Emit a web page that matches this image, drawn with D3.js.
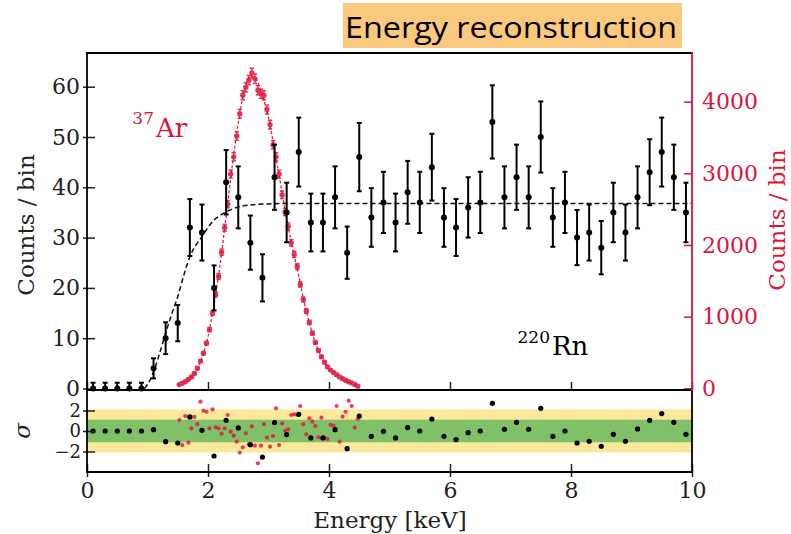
<!DOCTYPE html>
<html>
<head>
<meta charset="utf-8">
<script src="https://cdn.jsdelivr.net/npm/d3@7"></script>
<style>
	body { margin: 0; background: #fff; }
	text { font-family: "DejaVu Serif", serif; }
</style>
</head>
<body>
<script>
// 220Rn spectrum, 0.2 keV bins (left axis)
const binCentres = [0.1, 0.3, 0.5, 0.7, 0.9, 1.1, 1.3, 1.5, 1.7, 1.9,
	2.1, 2.3, 2.5, 2.7, 2.9, 3.1, 3.3, 3.5, 3.7, 3.9,
	4.1, 4.3, 4.5, 4.7, 4.9, 5.1, 5.3, 5.5, 5.7, 5.9,
	6.1, 6.3, 6.5, 6.7, 6.9, 7.1, 7.3, 7.5, 7.7, 7.9,
	8.1, 8.3, 8.5, 8.7, 8.9, 9.1, 9.3, 9.5, 9.7, 9.9];
const rnCounts = [0, 0, 0, 0, 0, 4, 10, 13, 32, 31,
	20, 41, 38, 29, 22, 42, 35, 47, 33, 33,
	38, 27, 46, 34, 37, 33, 39, 37, 44, 34,
	32, 36, 37, 53, 38, 42, 38, 50, 34, 37,
	30, 31, 28, 35, 31, 38, 43, 47, 42, 35];
const rnResiduals = [0, 0, 0, 0, 0, 0.13, -1.04, -1.17, 1.37, 0.07,
	-2.44, 1.05, 0.3, -1.33, -2.54, 0.82, -0.35, 1.63, -0.68, -0.68,
	0.13, -1.72, 1.46, -0.52, -0.03, -0.68, 0.33, 0, 1.17, -0.52,
	-0.84, -0.16, 0, 2.7, 0.17, 0.85, 0.17, 2.21, -0.52, 0,
	-1.17, -1.0, -1.49, -0.32, -1.0, 0.2, 1.04, 1.7, 0.85, -0.32];
const zeroBinErr = 1.15;
const rnFitEnergy = [0.95, 1.0, 1.1, 1.2, 1.3, 1.4, 1.5, 1.6, 1.7, 1.8, 1.9, 2.0, 2.1, 2.2, 2.3, 2.5, 2.7, 3.0, 3.5, 10];
const rnFitCounts = [0, 0.8, 3.3, 7, 11, 14.8, 18.3, 22.5, 26.2, 28.5, 30.2, 32, 33.5, 34.4, 35.1, 36.1, 36.5, 36.7, 36.8, 36.8];

// 37Ar peak, 0.05 keV bins (right axis)
const arCentres = [1.525, 1.575, 1.625, 1.675, 1.725, 1.775, 1.825, 1.875, 1.925, 1.975,
	2.025, 2.075, 2.125, 2.175, 2.225, 2.275, 2.325, 2.375, 2.425, 2.475,
	2.525, 2.575, 2.625, 2.675, 2.725, 2.775, 2.825, 2.875, 2.925, 2.975,
	3.025, 3.075, 3.125, 3.175, 3.225, 3.275, 3.325, 3.375, 3.425, 3.475,
	3.525, 3.575, 3.625, 3.675, 3.725, 3.775, 3.825, 3.875, 3.925, 3.975,
	4.025, 4.075, 4.125, 4.175, 4.225, 4.275, 4.325, 4.375, 4.425, 4.475];
const arCounts = [52, 72, 93, 124, 158, 208, 280, 380, 490, 630,
	820, 1050, 1310, 1560, 1900, 2240, 2570, 2990, 3230, 3520,
	3830, 4090, 4200, 4300, 4400, 4320, 4160, 4110, 4090, 3890,
	3680, 3400, 3230, 2990, 2700, 2460, 2260, 2030, 1870, 1700,
	1450, 1240, 1080, 920, 770, 640, 530, 440, 365, 300,
	255, 222, 190, 160, 135, 112, 92, 76, 55, 30];
const arResiduals = [1.07, -1.37, 1.46, -1.14, 0.26, 1.37, 0.68, 2.86, 1.98, 1.88,
	0.26, 2.11, 0.36, 0.26, -0.26, 0.26, 1.56, -0.07, -0.46, -1.04,
	-2.1, -1.59, -0.23, -1.3, 0.46, -1.43, -3.15, -1.43, 0.68, -0.65,
	-1.53, -0.49, 2.21, -1.37, 0.75, 0, 0.16, 1.56, 1.63, 1.58,
	2.44, 0.68, -0.32, 1.24, 0.91, 0.49, -0.61, 1.3, -0.65, -0.78,
	0.59, 0.52, 2.44, -1.04, 1.4, 1.88, 2.96, 2.44, 0.32, 1.17];
const arFitEnergy = [1.5, 1.6, 1.7, 1.8, 1.9, 2.0, 2.1, 2.2, 2.3, 2.4, 2.5, 2.6, 2.7, 2.8, 2.9, 3.0,
	3.1, 3.2, 3.3, 3.4, 3.5, 3.6, 3.7, 3.8, 3.9, 4.0, 4.1, 4.2, 4.3, 4.4, 4.5];
const arFitCounts = [45, 82, 140, 240, 430, 720, 1170, 1730, 2400, 3100, 3700, 4150, 4350, 4300, 4080, 3780,
	3330, 2850, 2360, 1950, 1570, 1160, 840, 580, 400, 280, 205, 148, 102, 62, 25];

// axes
const leftTicks = [0, 10, 20, 30, 40, 50, 60];
const rightTicks = [0, 1000, 2000, 3000, 4000];
const sigmaTicks = [-2, 0, 2];
const energyTicks = [0, 2, 4, 6, 8, 10];
const sigmaBands = [2.1, 1.1];

const W = 791, H = 534;
const RED = "#dc143c";
const INK = "#222";
const bandColours = ["#fbe89a", "#80c068"];

const svg = d3.select("body").append("svg").attr("width", W).attr("height", H);

const x = d3.scaleLinear([0, 10], [87, 692]);
const yL = d3.scaleLinear([-0.3, 66.7], [390, 53]);
const yR = d3.scaleLinear([-23, 4679], [390, 53]);
const yS = d3.scaleLinear([-4, 4], [472, 390]);

// title box
svg.append("rect")
	.attr("x", 343).attr("y", 3).attr("width", 339).attr("height", 45)
	.attr("fill", "#fbc97e");
svg.append("text")
	.attr("x", 511).attr("y", 38)
	.attr("text-anchor", "middle")
	.style("font-family", "'Open Sans', Lato, sans-serif")
	.attr("font-size", 29)
	.attr("textLength", 332).attr("lengthAdjust", "spacingAndGlyphs")
	.attr("fill", "#000")
	.text("Energy reconstruction");

// residual bands
for (let i = 0; i < sigmaBands.length; i++) {
	svg.append("rect")
		.attr("x", x(0)).attr("width", x(10) - x(0))
		.attr("y", yS(sigmaBands[i])).attr("height", yS(-sigmaBands[i]) - yS(sigmaBands[i]))
		.attr("fill", bandColours[i]);
}

// error bar helper
function errorBars(g, data, colour, width, cap) {
	let sel = g.selectAll(null).data(data).enter().append("g");
	sel.append("line")
		.attr("x1", d => d.x).attr("x2", d => d.x)
		.attr("y1", d => d.lo).attr("y2", d => d.hi)
		.attr("stroke", colour).attr("stroke-width", width);
	for (let key of ["lo", "hi"]) {
		sel.append("line")
			.attr("x1", d => d.x - cap).attr("x2", d => d.x + cap)
			.attr("y1", d => d[key]).attr("y2", d => d[key])
			.attr("stroke", colour).attr("stroke-width", width);
	}
}

// 37Ar: fit line, bars, points
const arLine = d3.line().x((d, i) => x(arFitEnergy[i])).y(d => yR(d)).curve(d3.curveMonotoneX);
svg.append("path")
	.attr("d", arLine(arFitCounts))
	.attr("fill", "none").attr("stroke", RED).attr("stroke-width", 1.2)
	.attr("stroke-dasharray", "3,2");

const arData = arCentres.map((e, i) => ({
	x: x(e),
	y: yR(arCounts[i]),
	lo: yR(arCounts[i] - Math.sqrt(arCounts[i])),
	hi: yR(arCounts[i] + Math.sqrt(arCounts[i]))
}));
let arG = svg.append("g").attr("opacity", 0.85);
errorBars(arG, arData, RED, 1.5, 2.2);
arG.selectAll("circle").data(arData).enter().append("circle")
	.attr("cx", d => d.x).attr("cy", d => d.y).attr("r", 2.7)
	.attr("fill", RED);

// 220Rn: fit line, bars, points
const rnLine = d3.line().x((d, i) => x(rnFitEnergy[i])).y(d => yL(d)).curve(d3.curveMonotoneX);
svg.append("path")
	.attr("d", rnLine(rnFitCounts))
	.attr("fill", "none").attr("stroke", "#111").attr("stroke-width", 1.5)
	.attr("stroke-dasharray", "5,3");

const rnData = binCentres.map((e, i) => {
	let n = rnCounts[i];
	let err = n > 0 ? Math.sqrt(n) : zeroBinErr;
	return { x: x(e), y: yL(n), lo: yL(Math.max(n - err, 0)), hi: yL(n + err) };
});
let rnG = svg.append("g");
errorBars(rnG, rnData, "#000", 2, 2.5);
rnG.selectAll("circle").data(rnData).enter().append("circle")
	.attr("cx", d => d.x).attr("cy", d => d.y).attr("r", 3)
	.attr("fill", "#000");

// residual points
svg.append("g").selectAll("circle").data(arResiduals).enter().append("circle")
	.attr("cx", (d, i) => x(arCentres[i])).attr("cy", d => yS(d)).attr("r", 2.1)
	.attr("fill", RED).attr("opacity", 0.8);
svg.append("g").selectAll("circle").data(rnResiduals).enter().append("circle")
	.attr("cx", (d, i) => x(binCentres[i])).attr("cy", d => yS(d)).attr("r", 2.6)
	.attr("fill", "#000");

// axes: ticks point in and out
function styleAxis(g, colour, outLen, horizontal, dir, size) {
	g.attr("font-family", null).attr("font-size", size);
	g.select(".domain").remove();
	g.selectAll(".tick line").attr("stroke", colour).attr("stroke-width", 1.5);
	g.selectAll(".tick text").attr("fill", colour);
	if (outLen > 0) {
		g.selectAll(".tick").append("line")
			.attr(horizontal ? "y2" : "x2", dir * outLen)
			.attr("stroke", colour).attr("stroke-width", 1.5);
	}
}

let gL = svg.append("g").attr("transform", "translate(87,0)")
	.call(d3.axisLeft(yL).tickValues(leftTicks).tickSize(-8).tickPadding(7));
styleAxis(gL, INK, 4, false, -1, 22);

let gR = svg.append("g").attr("transform", "translate(692,0)")
	.call(d3.axisRight(yR).tickValues(rightTicks).tickSize(-8).tickPadding(10).tickFormat(d3.format("d")));
styleAxis(gR, RED, 0, false, 1, 22);

let gTopX = svg.append("g").attr("transform", "translate(0,390)")
	.call(d3.axisBottom(x).tickValues(energyTicks).tickSize(-8).tickFormat(""));
styleAxis(gTopX, INK, 0, true, 1, 22);

let gS = svg.append("g").attr("transform", "translate(87,0)")
	.call(d3.axisLeft(yS).tickValues(sigmaTicks).tickSize(-8).tickPadding(6));
styleAxis(gS, INK, 4, false, -1, 18);

let gX = svg.append("g").attr("transform", "translate(0,472)")
	.call(d3.axisBottom(x).tickValues(energyTicks).tickSize(-8).tickPadding(10));
styleAxis(gX, INK, 5, true, 1, 22);

// spines
const spines = [
	[87, 53, 692, 53, "#000"], [87, 53, 87, 472, "#000"], [87, 390, 692, 390, "#000"],
	[87, 472, 692, 472, "#000"], [692, 390, 692, 472, "#000"], [692, 53, 692, 390, RED]
];
svg.append("g").selectAll("line").data(spines).enter().append("line")
	.attr("x1", d => d[0]).attr("y1", d => d[1]).attr("x2", d => d[2]).attr("y2", d => d[3])
	.attr("stroke", d => d[4]).attr("stroke-width", 1.8).attr("stroke-linecap", "square");

// axis labels
svg.append("text")
	.attr("transform", "translate(34,225) rotate(-90)")
	.attr("text-anchor", "middle").attr("font-size", 23).attr("fill", INK)
	.text("Counts / bin");
svg.append("text")
	.attr("transform", "translate(785,220) rotate(-90)")
	.attr("text-anchor", "middle").attr("font-size", 23).attr("fill", RED)
	.text("Counts / bin");
svg.append("text")
	.attr("transform", "translate(30,431) rotate(-90)")
	.attr("text-anchor", "middle").attr("font-size", 23).attr("font-style", "italic").attr("fill", INK)
	.text("σ");
svg.append("text")
	.attr("x", 390).attr("y", 528)
	.attr("text-anchor", "middle").attr("font-size", 23).attr("fill", INK)
	.text("Energy [keV]");

// isotope labels
svg.append("text").attr("x", 154).attr("y", 124).attr("text-anchor", "end")
	.attr("font-size", 17).attr("fill", RED).text("37");
svg.append("text").attr("x", 156).attr("y", 137)
	.attr("font-size", 26).attr("fill", RED).text("Ar");
svg.append("text").attr("x", 550).attr("y", 343).attr("text-anchor", "end")
	.attr("font-size", 17).attr("fill", "#000").text("220");
svg.append("text").attr("x", 552).attr("y", 355)
	.attr("font-size", 26).attr("fill", "#000").text("Rn");
</script>
</body>
</html>
